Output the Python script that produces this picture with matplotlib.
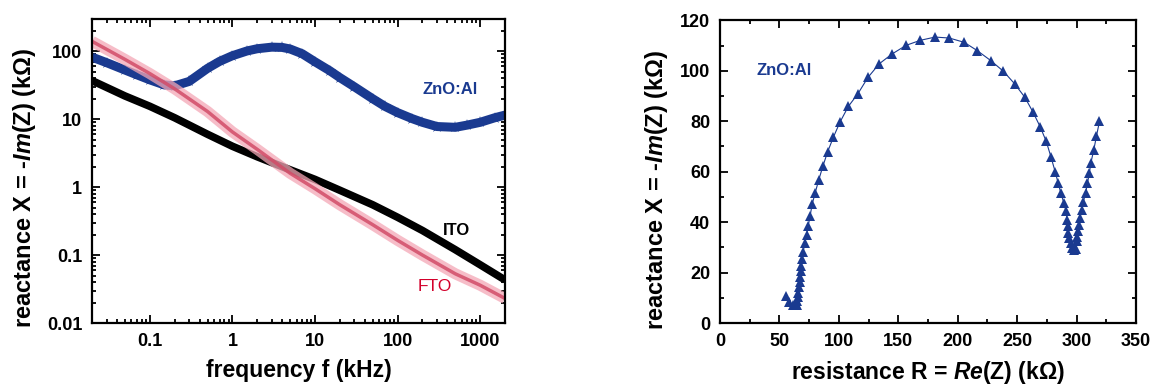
import numpy as np
import matplotlib
matplotlib.use('Agg')
import matplotlib.pyplot as plt
from matplotlib.ticker import MultipleLocator, LogLocator, FixedLocator, FixedFormatter, NullFormatter

plt.rcParams['font.family'] = ['Liberation Sans', 'DejaVu Sans']
plt.rcParams['mathtext.fontset'] = 'custom'
plt.rcParams['mathtext.rm'] = 'Liberation Sans:bold'
plt.rcParams['mathtext.it'] = 'Liberation Sans:bold:italic'

# left panel: reactance vs frequency (kHz -> kOhm)
freq = [0.02, 0.03, 0.05, 0.07, 0.1, 0.15, 0.2, 0.3, 0.5, 0.7, 1, 1.5, 2, 3, 4, 5, 7, 10,
        15, 20, 30, 50, 70, 100, 150, 200, 300, 500, 700, 1000, 1500, 2000]
x_zno = [82, 68, 53, 45, 38, 32, 31, 36, 56, 71, 86, 101, 109, 115, 114, 108, 92, 70,
         52, 41, 30, 20, 15.5, 12.5, 10.2, 9, 7.8, 7.6, 8.2, 9, 10.5, 11.5]

freq_ito = [0.02, 0.05, 0.1, 0.2, 0.5, 1, 2, 5, 10, 20, 50, 100, 200, 500, 1000, 2000]
x_ito = [37, 22, 15.5, 10.5, 6.0, 4.0, 2.8, 1.8, 1.3, 0.9, 0.55, 0.36, 0.23, 0.12, 0.072, 0.043]

freq_fto = [0.02, 0.05, 0.1, 0.2, 0.5, 1, 2, 5, 10, 20, 50, 100, 200, 500, 1000, 2000]
x_fto = [140, 76, 47, 28, 13, 6.5, 3.6, 1.6, 0.95, 0.55, 0.28, 0.165, 0.1, 0.053, 0.036, 0.023]

# right panel: Nyquist plot of ZnO:Al (kOhm)
re_z = [55.5, 58, 61, 64.5, 65, 65.5, 66, 66.5, 67, 67.5, 68, 68.5, 69.2, 70, 71.3,
        72.8, 74.2, 75.8, 77.5, 80, 83, 86.5, 90.5, 95.4, 101, 108, 116, 124.5, 134,
        144.5, 156.5, 168.5, 181, 193, 205.5, 216.5, 228, 238.5, 248, 256.5, 263.5,
        269.5, 274.5, 278.5, 282, 284.5, 286.8, 289.3, 291.2, 292, 292.6, 293.2, 294,
        295, 296.5, 298, 299.5, 300, 300.6, 301.3, 302, 303, 304.3, 305.7, 307.6,
        309.2, 310.8, 312, 314.5, 316.7, 319.3]
im_z = [10.8, 8.5, 7, 7, 8.6, 10.3, 12.1, 14.1, 16.1, 18.2, 20.5, 22.7, 25.4, 28.1, 31.7,
        35, 38.5, 42.4, 47, 51.5, 56.6, 62.1, 67.8, 73.7, 79.7, 85.9, 90.9, 97.4, 102.8,
        106.6, 110.1, 112.1, 113.4, 113, 111.3, 108, 104, 99.8, 94.8, 89.5, 83.5,
        77.7, 72, 65.8, 60, 55.5, 51.5, 47.6, 44.3, 41, 38.3, 35.7, 33.7,
        31.7, 29.7, 29, 29.5, 32.4, 34.3, 36.3, 39, 41.6, 44.9, 48, 51.5,
        55.5, 59.5, 63.4, 68.7, 74, 80]

blue = '#1a3a90'
ylab = r'reactance X = -$\mathit{Im}$(Z) (kΩ)'

fig = plt.figure(figsize=(11.52, 3.85), dpi=100)
ax1 = fig.add_axes([0.0799, 0.161, 0.3585, 0.790])
ax2 = fig.add_axes([0.625, 0.161, 0.3611, 0.786])

# --- left panel
ax1.plot(freq_ito, x_ito, color='black', linewidth=5.5, solid_capstyle='butt')
ax1.plot(freq, x_zno, color=blue, linewidth=6.5, marker='*', markersize=9,
         markeredgewidth=0, solid_capstyle='butt')
ax1.plot(freq_fto, x_fto, color='#f4a7b6', linewidth=8, alpha=0.75, solid_capstyle='butt')
ax1.plot(freq_fto, x_fto, color='#d24c68', linewidth=2.5, alpha=0.85)

ax1.set_xscale('log')
ax1.set_yscale('log')
ax1.set_xlim(0.02, 2000)
ax1.set_ylim(0.01, 300)

xt = [0.1, 1, 10, 100, 1000]
yt = [0.01, 0.1, 1, 10, 100]
ax1.xaxis.set_major_locator(FixedLocator(xt))
ax1.xaxis.set_major_formatter(FixedFormatter(['0.1', '1', '10', '100', '1000']))
ax1.yaxis.set_major_locator(FixedLocator(yt))
ax1.yaxis.set_major_formatter(FixedFormatter(['0.01', '0.1', '1', '10', '100']))
for a in (ax1.xaxis, ax1.yaxis):
    a.set_minor_locator(LogLocator(base=10, subs=np.arange(2, 10), numticks=20))
    a.set_minor_formatter(NullFormatter())

ax1.set_xlabel('frequency f (kHz)', fontsize=16.5, fontweight='bold', labelpad=7)
ax1.set_ylabel(ylab, fontsize=17, fontweight='bold')
ax1.yaxis.set_label_coords(-0.132, 0.445)

ax1.text(430, 27, 'ZnO:Al', color=blue, fontsize=12, fontweight='bold',
         ha='center', va='center')
ax1.text(520, 0.23, 'ITO', color='black', fontsize=12, fontweight='bold',
         ha='center', va='center')
ax1.text(280, 0.034, 'FTO', color='#d3002b', fontsize=12.5, ha='center', va='center')

# --- right panel
ax2.plot(re_z, im_z, color=blue, linewidth=0.8, marker='^', markersize=7,
         markeredgewidth=0)
ax2.set_xlim(0, 350)
ax2.set_ylim(0, 120)
ax2.xaxis.set_major_locator(MultipleLocator(50))
ax2.xaxis.set_minor_locator(MultipleLocator(25))
ax2.yaxis.set_major_locator(MultipleLocator(20))
ax2.yaxis.set_minor_locator(MultipleLocator(10))
ax2.set_xlabel(r'resistance R = $\mathit{Re}$(Z) (kΩ)', fontsize=16.5,
               fontweight='bold', labelpad=7)
ax2.set_ylabel(ylab, fontsize=17, fontweight='bold')
ax2.yaxis.set_label_coords(-0.12, 0.44)
ax2.text(31, 100, 'ZnO:Al', color=blue, fontsize=12, fontweight='bold',
         ha='left', va='center')

for ax in (ax1, ax2):
    ax.tick_params(which='both', direction='in', top=True, right=True,
                   labelsize=13, width=1.3)
    ax.tick_params(which='major', length=6, pad=7)
    ax.tick_params(which='minor', length=3)
    for lbl in ax.get_xticklabels() + ax.get_yticklabels():
        lbl.set_fontweight('bold')
    for s in ax.spines.values():
        s.set_linewidth(1.6)

plt.savefig('out.png', dpi=100)
